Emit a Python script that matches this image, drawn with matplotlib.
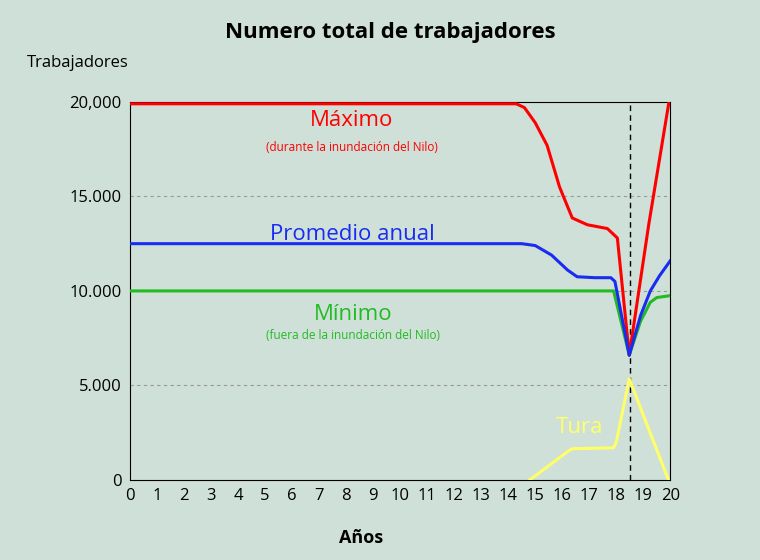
import matplotlib
matplotlib.use("Agg")
import matplotlib.pyplot as plt

plt.rcParams["font.family"] = "Open Sans"
BG = "#cfe0d8"

max_x = [0, 14.3, 14.6, 15.0, 15.44, 15.9, 16.37, 16.93, 17.67, 18.04, 18.48, 19.2, 19.95]
max_y = [19900, 19900, 19700, 18900, 17700, 15500, 13860, 13500, 13300, 12800, 6600, 13500, 20000]
avg_x = [0, 14.5, 15.0, 15.6, 16.2, 16.55, 17.2, 17.8, 17.95, 18.48, 18.9, 19.26, 19.6, 20]
avg_y = [12500, 12500, 12400, 11900, 11100, 10750, 10700, 10700, 10500, 6600, 8700, 10000, 10800, 11600]
min_x = [0, 17.9, 18.48, 18.9, 19.26, 19.5, 20]
min_y = [10000, 10000, 6600, 8400, 9400, 9650, 9750]
tura_x = [14.8, 16.2, 16.37, 17.9, 18.0, 18.48, 19.93]
tura_y = [0, 1500, 1650, 1700, 2000, 5350, 0]
xticks = list(range(0, 21))
yticks = [0, 5000, 10000, 15000, 20000]
ylabels = ["0", "5.000", "10.000", "15.000", "20,000"]

fig = plt.figure(figsize=(7.6, 5.6), dpi=100, facecolor=BG)
ax = fig.add_axes([0.171, 0.143, 0.711, 0.675], facecolor=BG)
for y in yticks[1:4]:
    ax.axhline(y, color="#999999", ls=(0, (3, 3)), lw=0.8, zorder=1)
ax.axvline(18.5, color="black", ls=(0, (4, 3)), lw=1, zorder=1)
ax.plot(min_x, min_y, color="#22bb22", lw=2.2, zorder=3)
ax.plot(max_x, max_y, color="#ff0000", lw=2.2, zorder=4)
ax.plot(avg_x, avg_y, color="#1a2cf0", lw=2.2, zorder=5)
ax.plot(tura_x, tura_y, color="#ffff66", lw=2.2, zorder=3)
ax.set_xlim(0, 20)
ax.set_ylim(0, 20000)
ax.set_xticks(xticks)
ax.set_yticks(yticks)
ax.set_yticklabels(ylabels)
ax.tick_params(length=0, labelsize=12, pad=6)
for s in ax.spines.values():
    s.set_color("black")
ax.text(8.2, 18700, "Máximo", color="#ff0000", fontsize=16, ha="center")
ax.text(8.2, 17400, "(durante la inundación del Nilo)", color="#ff0000", fontsize=8.5, ha="center")
ax.text(8.25, 12700, "Promedio anual", color="#1a2cf0", fontsize=16, ha="center")
ax.text(8.25, 8450, "Mínimo", color="#22bb22", fontsize=16, ha="center")
ax.text(8.25, 7450, "(fuera de la inundación del Nilo)", color="#22bb22", fontsize=8.5, ha="center")
ax.text(16.65, 2500, "Tura", color="#ffff66", fontsize=16, ha="center")
fig.text(0.513, 0.932, "Numero total de trabajadores", ha="center", fontsize=16, fontweight="bold")
fig.text(0.035, 0.88, "Trabajadores", fontsize=12)
fig.text(0.475, 0.03, "Años", ha="center", fontsize=13, fontweight="bold")
fig.savefig("out.png", dpi=100, facecolor=BG)
